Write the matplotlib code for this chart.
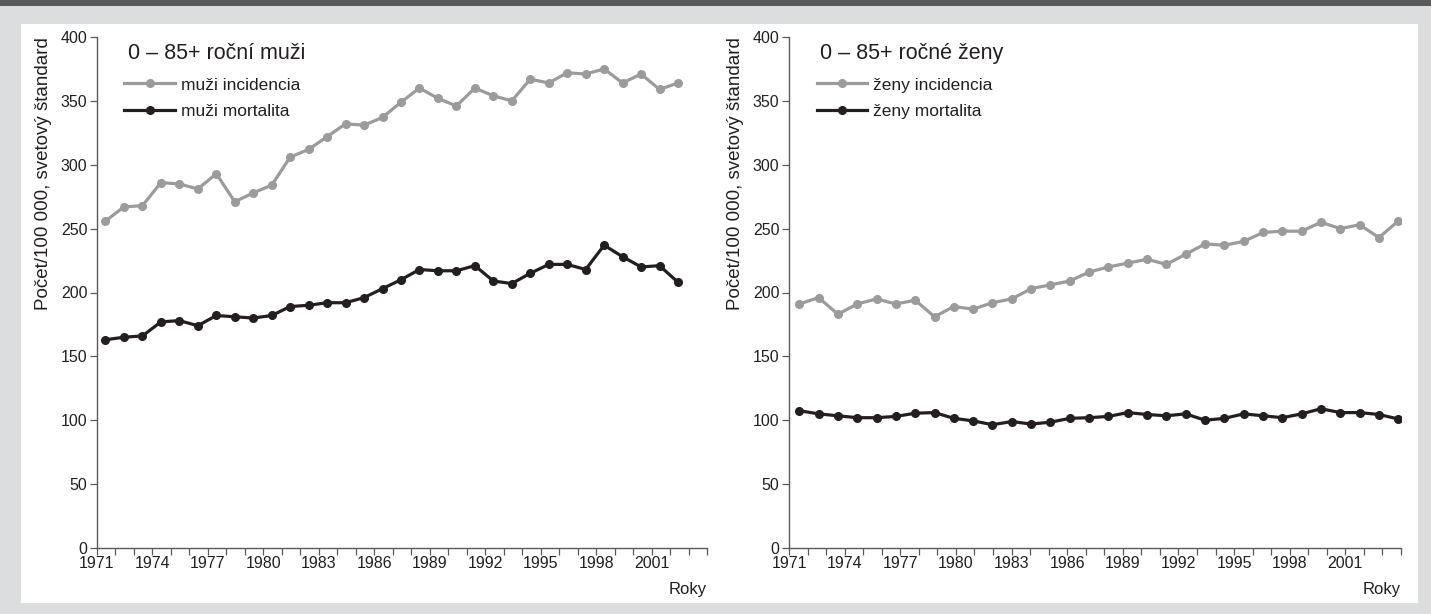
import numpy as np
import matplotlib
matplotlib.use("Agg")
import matplotlib.pyplot as plt
from matplotlib.patches import Rectangle

plt.rcParams['font.family'] = ['Liberation Sans', 'DejaVu Sans']

# data
years = list(range(1971, 2003))
muzi_incidencia = [256, 267, 268, 286, 285, 281, 293, 271, 278, 284, 306, 312, 322, 332, 331, 337,
                   349, 360, 352, 346, 360, 354, 350, 367, 364, 372, 371, 375, 364, 371, 359, 364]
muzi_mortalita = [163, 165, 166, 177, 178, 174, 182, 181, 180, 182, 189, 190, 192, 192, 196, 203,
                  210, 218, 217, 217, 221, 209, 207, 215, 222, 222, 218, 237, 228, 220, 221, 208]
zeny_incidencia = [191, 196, 183, 191, 195, 191, 194, 181, 189, 187, 192, 195, 203, 206, 209, 216,
                   220, 223, 226, 222, 230, 238, 237, 240, 247, 248, 248, 255, 250, 253, 243, 256]
zeny_mortalita = [107.5, 105, 103.5, 102, 102, 103, 105.5, 106, 101.5, 99.5, 96.5, 99, 97, 98.5, 101.5, 102,
                  103, 106, 104.5, 103.5, 105, 100, 101.5, 105, 103.5, 102, 105, 109, 106, 106, 104.5, 101]
year_labels = ['1971', '1974', '1977', '1980', '1983', '1986', '1989', '1992', '1995', '1998', '2001']

GRAY = '#9a9b9d'
BLACK = '#231f20'
AXC = '#58595b'

fig = plt.figure(figsize=(14.31, 6.14), dpi=100)
fig.patch.set_facecolor('#dcdddf')
W, H = 1431, 614
fig.patches.append(Rectangle((21 / W, 1 - 603 / H), (1418 - 21) / W, (603 - 24) / H,
                             transform=fig.transFigure, facecolor='white', edgecolor='none', zorder=-5))
fig.patches.append(Rectangle((0, 1 - 6 / H), 1, 6 / H, transform=fig.transFigure,
                             facecolor='#58595b', edgecolor='none', zorder=-5))

panels = [
    dict(rect=[97 / W, 66 / H, 610 / W, 511 / H], xlim=(1970.54, 2003.57),
         inc=muzi_incidencia, mort=muzi_mortalita, title='0 – 85+ roční muži',
         labels=('muži incidencia', 'muži mortalita')),
    dict(rect=[789 / W, 66 / H, 612 / W, 511 / H], xlim=(1970.47, 2002.14),
         inc=zeny_incidencia, mort=zeny_mortalita, title='0 – 85+ ročné ženy',
         labels=('ženy incidencia', 'ženy mortalita')),
]

for p in panels:
    ax = fig.add_axes(p['rect'])
    ax.set_facecolor('none')
    ax.plot(years, p['inc'], color=GRAY, lw=2.3, marker='o', ms=5.5, label=p['labels'][0])
    ax.plot(years, p['mort'], color=BLACK, lw=2.3, marker='o', ms=5.5, label=p['labels'][1])
    ax.set_xlim(*p['xlim'])
    ax.set_ylim(0, 400)
    ax.set_yticks(np.arange(0, 401, 50))
    ticks = np.linspace(p['xlim'][0], p['xlim'][1], 34)
    ax.set_xticks(ticks)
    ax.set_xticklabels([year_labels[i // 3] if i % 3 == 0 and i // 3 < len(year_labels) else ''
                        for i in range(len(ticks))])
    for s in ['top', 'right']:
        ax.spines[s].set_visible(False)
    for s in ['left', 'bottom']:
        ax.spines[s].set_color(AXC)
        ax.spines[s].set_linewidth(1.0)
    ax.tick_params(axis='both', colors=AXC, length=5, width=0.9, labelsize=11.5,
                   labelcolor='#231f20', pad=2)
    ax.tick_params(axis='x', pad=1)
    ax.text(0.05, 0.968, p['title'], transform=ax.transAxes, fontsize=15.5,
            color='#231f20', va='center', ha='left')
    leg = ax.legend(loc='upper left', bbox_to_anchor=(0.045, 0.921), frameon=False,
                    fontsize=12.5, handlelength=2.9, handletextpad=0.35, labelspacing=0.68,
                    borderpad=0, borderaxespad=0)
    for t in leg.get_texts():
        t.set_color('#231f20')
    ax.text(-0.088, 1.0, 'Počet/100 000, svetový štandard', transform=ax.transAxes,
            rotation=90, fontsize=13.5, va='top', ha='center', color='#231f20')
    ax.text(1.0, -0.082, 'Roky', transform=ax.transAxes, fontsize=12,
            va='center', ha='right', color='#231f20')

fig.savefig('out.png', dpi=100, facecolor=fig.get_facecolor())
